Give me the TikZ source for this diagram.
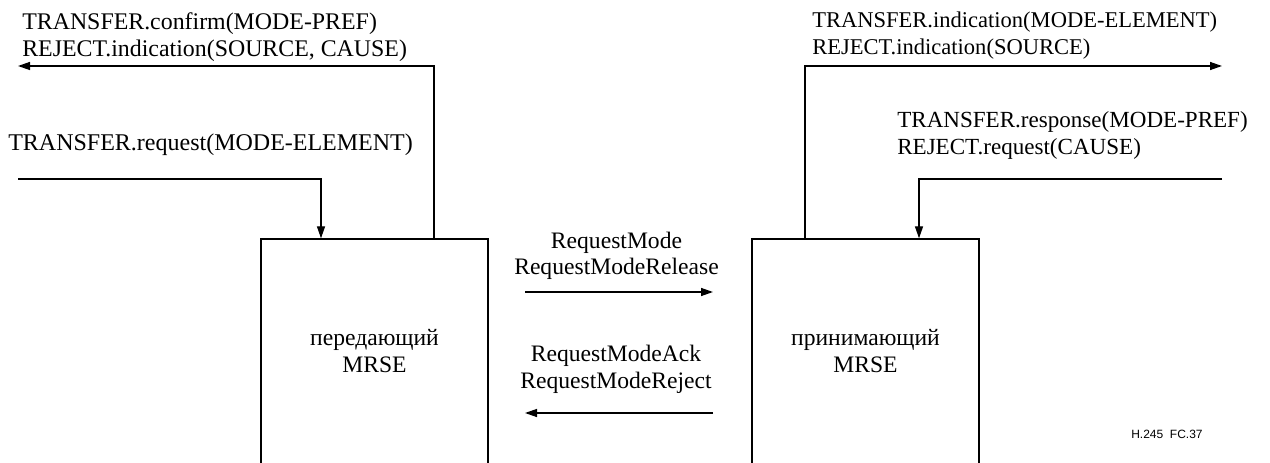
\documentclass[tikz,border=0pt]{standalone}
\usepackage{fontspec}
\setmainfont{Liberation Serif}
\newfontfamily\labelsans{Liberation Sans}
\usetikzlibrary{arrows.meta,calc}
\begin{document}
\begin{tikzpicture}[x=0.75pt,y=-0.75pt,
  wire/.style={line width=1pt},
  arr/.style={wire,-{Triangle[length=9pt,width=6pt]}},
  txt/.style={font=\fontsize{17.7}{20.25}\selectfont,inner sep=0pt},
  lbl/.style={txt,align=left,anchor=base west},
  clbl/.style={txt,align=center,anchor=base},
  mrse/.style={draw,line width=1pt,inner sep=0pt,minimum width=170.25pt,minimum height=174pt}]
\useasboundingbox (0,0) rectangle (1270,463);
\clip (0,0) rectangle (1270,463);
% boxes (open at the bottom edge)
\node[mrse] (tx) at (374.5,355) {};
\node[mrse] (rx) at (865.5,355) {};
\node[clbl] (txl) at (374.5,372) {передающий\\MRSE};
\node[clbl] (rxl) at (865.5,372) {принимающий\\MRSE};
% free ends
\coordinate (tlEnd) at (18,66);
\coordinate (tlIn) at (18,179);
\coordinate (trEnd) at (1222,66);
\coordinate (trIn) at (1222,179);
\coordinate (m1s) at (525,292);
\coordinate (m1e) at (713,292);
\coordinate (m2s) at (713,413);
\coordinate (m2e) at (525,413);
% connectors
\draw[arr] ($(tx.north)+(59.5,0)$) |- (tlEnd);
\draw[arr] (tlIn) -| ($(tx.north)+(-53.5,0)$);
\draw[arr] ($(rx.north)+(-60.5,0)$) |- (trEnd);
\draw[arr] (trIn) -| ($(rx.north)+(53.5,0)$);
\draw[arr] (m1s) -- (m1e);
\draw[arr] (m2s) -- (m2e);
% labels (anchor = baseline of the last line)
\node[lbl,font=\fontsize{17.9}{20.25}\selectfont] (t1) at (22,57) {TRANSFER.confirm(MODE-PREF)\\REJECT.indication(SOURCE, CAUSE)};
\node[lbl,font=\fontsize{18}{20.25}\selectfont] (t2) at (8,151) {TRANSFER.request(MODE-ELEMENT)};
\node[lbl,font=\fontsize{16.9}{20.25}\selectfont] (t3) at (812,55) {TRANSFER.indication(MODE-ELEMENT)\\REJECT.indication(SOURCE)};
\node[lbl,font=\fontsize{17.3}{20.25}\selectfont] (t4) at (897,155) {TRANSFER.response(MODE-PREF)\\REJECT.request(CAUSE)};
\node[clbl] (m1) at (616.5,275) {RequestMode\\RequestModeRelease};
\node[clbl] (m2) at (616,388) {RequestModeAck\\RequestModeReject};
\node[font=\labelsans\fontsize{9}{11}\selectfont,inner sep=0pt,anchor=base west] (fig) at (1131,438) {H.245\ \ FC.37};
\end{tikzpicture}
\end{document}
